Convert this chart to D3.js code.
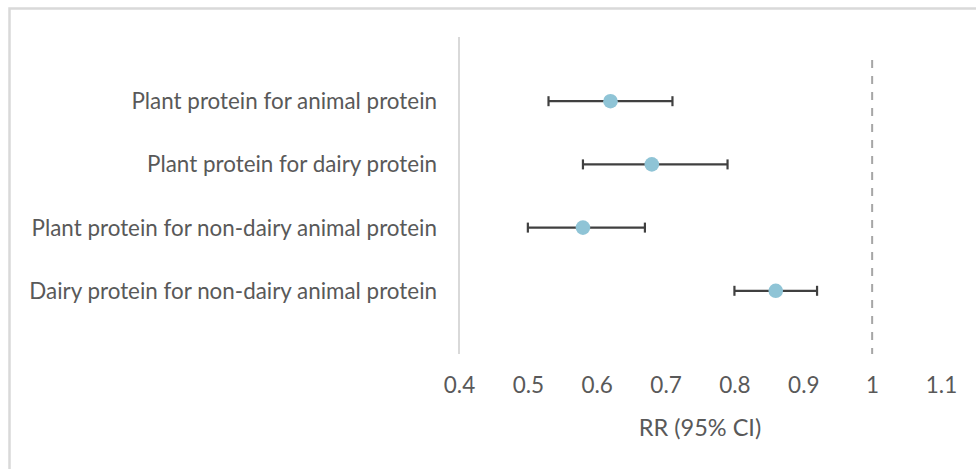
<!DOCTYPE html>
<html>
<head>
<meta charset="utf-8">
<script src="https://cdn.jsdelivr.net/npm/d3@7/dist/d3.min.js"></script>
<style>
  html, body { margin: 0; padding: 0; background: #fff; }
  svg { display: block; }
</style>
</head>
<body>
<svg id="chart" width="976" height="469"></svg>
<script>
const categories = [
  "Plant protein for animal protein",
  "Plant protein for dairy protein",
  "Plant protein for non-dairy animal protein",
  "Dairy protein for non-dairy animal protein"
];
const rr    = [0.62, 0.68, 0.58, 0.86];
const lower = [0.53, 0.58, 0.50, 0.80];
const upper = [0.71, 0.79, 0.67, 0.92];
const xTicks = [0.4, 0.5, 0.6, 0.7, 0.8, 0.9, 1.0, 1.1];
const xTickLabels = ["0.4", "0.5", "0.6", "0.7", "0.8", "0.9", "1", "1.1"];
const refValue = 1;
const xTitle = "RR (95% CI)";

const FONT = "Lato, 'Open Sans', sans-serif";
const TEXT = "#595959";

const svg = d3.select("#chart");

// outer chart border (top/left visible, rest cropped)
svg.append("rect")
  .attr("x", 9.5).attr("y", 8.5)
  .attr("width", 1200).attr("height", 800)
  .attr("fill", "none").attr("stroke", "#d9d9d9").attr("stroke-width", 2.5);

const x = d3.scaleLinear().domain([0.4, 1.1]).range([459, 941]);
const y = d3.scaleLinear().domain([0, 5]).range([38, 354]);

// y axis line
svg.append("line")
  .attr("x1", x(0.4)).attr("x2", x(0.4))
  .attr("y1", y(0) - 1).attr("y2", y(5))
  .attr("stroke", "#d9d9d9").attr("stroke-width", 2);

// reference dashed line
svg.append("line")
  .attr("x1", x(refValue)).attr("x2", x(refValue))
  .attr("y1", y(0.35)).attr("y2", y(5))
  .attr("stroke", "#a6a6a6").attr("stroke-width", 2)
  .attr("stroke-dasharray", "8,8");

// x axis tick labels via d3 axis
const xAxis = d3.axisBottom(x)
  .tickValues(xTicks)
  .tickSize(0)
  .tickPadding(0)
  .tickFormat((d, i) => xTickLabels[i]);
const gx = svg.append("g").attr("transform", `translate(0,${y(5)})`).call(xAxis);
gx.select(".domain").remove();
gx.selectAll("text")
  .attr("fill", TEXT)
  .attr("font-family", FONT)
  .attr("font-size", 22.5)
  .attr("dy", null)
  .attr("y", 39);

// axis title
svg.append("text")
  .attr("x", (x(0.4) + x(1.1)) / 2)
  .attr("y", 436)
  .attr("text-anchor", "middle")
  .attr("fill", TEXT)
  .attr("font-family", FONT)
  .attr("font-size", 23.5)
  .text(xTitle);

// category labels
const rows = categories.map((c, i) => ({ c, i, rr: rr[i], lo: lower[i], hi: upper[i] }));
const labels = svg.append("g").selectAll("text").data(rows).join("text")
  .attr("x", 437)
  .attr("y", d => y(d.i + 1) + 7)
  .attr("text-anchor", "end")
  .attr("fill", TEXT)
  .attr("font-family", FONT)
  .attr("font-size", 20)
  .text(d => d.c);

// fit label font size so the longest label spans ~408px like the reference
let maxW = 0;
labels.each(function () { maxW = Math.max(maxW, this.getComputedTextLength()); });
const fs = 20 * 408 / maxW;
labels.attr("font-size", fs).attr("y", d => y(d.i + 1) + fs * 0.36);

// error bars
const eb = svg.append("g").attr("stroke", "#404040").attr("stroke-width", 2.2);
eb.selectAll("line.bar").data(rows).join("line")
  .attr("class", "bar")
  .attr("x1", d => x(d.lo)).attr("x2", d => x(d.hi))
  .attr("y1", d => y(d.i + 1)).attr("y2", d => y(d.i + 1));
eb.selectAll("line.capl").data(rows).join("line")
  .attr("class", "capl")
  .attr("x1", d => x(d.lo)).attr("x2", d => x(d.lo))
  .attr("y1", d => y(d.i + 1) - 5).attr("y2", d => y(d.i + 1) + 5);
eb.selectAll("line.caph").data(rows).join("line")
  .attr("class", "caph")
  .attr("x1", d => x(d.hi)).attr("x2", d => x(d.hi))
  .attr("y1", d => y(d.i + 1) - 5).attr("y2", d => y(d.i + 1) + 5);

// points
svg.append("g").selectAll("circle").data(rows).join("circle")
  .attr("cx", d => x(d.rr))
  .attr("cy", d => y(d.i + 1))
  .attr("r", 7.3)
  .attr("fill", "#8fc4d6");
</script>
</body>
</html>
